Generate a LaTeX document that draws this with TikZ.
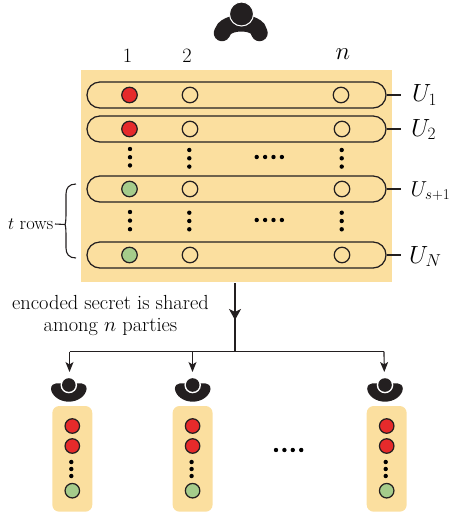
\documentclass[tikz,border=0pt]{standalone}
\usetikzlibrary{arrows.meta,calc}
\definecolor{pane}{HTML}{FBDF9F}
\definecolor{redc}{HTML}{E62A2B}
\definecolor{greenc}{HTML}{A5CC8B}
\definecolor{ink}{HTML}{231F20}
\tikzset{
 panel/.style={fill=pane,draw=none,inner sep=0pt,anchor=north west},
 rowpill/.style={draw=ink,line width=1.25pt,rounded corners=12.9pt,minimum width=299pt,minimum height=26pt,inner sep=0pt},
 share/.style={circle,draw=ink,line width=1.25pt,minimum size=15.5pt,inner sep=0pt},
 blank/.style={share},
 redshare/.style={share,fill=redc},
 greenshare/.style={share,fill=greenc},
 smalldot/.style={circle,fill=black,inner sep=0pt,minimum size=4.4pt},
 lab/.style={text=black,inner sep=0pt},
 ulab/.style={lab,anchor=base west,font=\fontsize{23}{24}\selectfont},
 conn/.style={draw=ink,line width=1.15pt},
 tip/.style={-{Stealth[length=10pt,width=8pt,inset=2.5pt]}},
 bigtip/.style={-{Stealth[length=11pt,width=12pt,inset=3pt]}}
}
\newcommand{\vdotsat}[3]{\node[smalldot] at (#1,#2) {};\node[smalldot] at (#1,#2+#3) {};\node[smalldot] at (#1,#2+2*#3) {};}
\newcommand{\hdotsat}[2]{\foreach \k in {0,1,2,3}{\node[smalldot] at (#1+\k*8.4,#2) {};}}
\newcommand{\bowlperson}[1]{%
 \fill[ink] (#1-17.8,389) .. controls (#1-17.8,385.5) and (#1-15.5,383.3) .. (#1-12.5,383.3)
   -- (#1+12.5,383.3) .. controls (#1+15.5,383.3) and (#1+17.8,385.5) .. (#1+17.8,389)
   .. controls (#1+17,396) and (#1+9,401.7) .. (#1,401.7)
   .. controls (#1-9,401.7) and (#1-17,396) .. (#1-17.8,389) -- cycle;
 \fill[white] (#1,385) circle[radius=8.3pt];
 \fill[ink] (#1,385) circle[radius=6.8pt];
}
\begin{document}
\begin{tikzpicture}[x=1pt,y=-1pt,font=\fontsize{20.4}{24}\selectfont]
\useasboundingbox (0,0) rectangle (451,515);
% top person
\draw[ink,line width=16.5pt,line cap=round] (222,33) .. controls (225,20) and (258,20) .. (259.5,33);
\fill[ink,draw=white,line width=1pt] (241.5,14) circle[radius=12pt];
% panel
\node[panel,minimum width=311pt,minimum height=212pt] (main) at (81,70) {};
\node[lab] (c1) at (127.5,56) {1};
\node[lab] (c2) at (187,56) {2};
\node[lab,font=\fontsize{28}{30}\selectfont] (cn) at (343,54) {$n$};
% rows
\node[rowpill] (r1) at (236.5,95) {};
\node[rowpill] (r2) at (236.5,129) {};
\node[rowpill] (r3) at (236.5,189) {};
\node[rowpill] (r4) at (236.5,255) {};
\node[redshare] (a1) at (129.5,95) {};
\node[blank] (b1) at (190,95) {};
\node[blank] (n1) at (341,95) {};
\node[redshare] (a2) at (129.5,129) {};
\node[blank] (b2) at (190,129) {};
\node[blank] (n2) at (342,129) {};
\node[greenshare] (a3) at (129.5,189) {};
\node[blank] (b3) at (190,189) {};
\node[blank] (n3) at (342,189) {};
\node[greenshare] (a4) at (129.5,255) {};
\node[blank] (b4) at (190,255) {};
\node[blank] (n4) at (342,255) {};
% dots
\vdotsat{130}{149}{8.2}\vdotsat{189.3}{150}{8.3}\vdotsat{341.7}{150}{8.3}
\vdotsat{130}{212}{8.6}\vdotsat{189.3}{212.7}{8.3}\vdotsat{341.7}{212.7}{8.3}
\hdotsat{256.7}{157}\hdotsat{256.7}{220}
% row labels
\node[ulab] (u1) at (412,101.5) {$U_1$};
\node[ulab] (u2) at (411,136) {$U_2$};
\node[ulab,scale=0.87] (u3) at (410.5,196.5) {$U_{s+1}$};
\node[ulab] (u4) at (409,263) {$U_N$};
\draw[conn] (r1.east) -- (401,95);
\draw[conn] (r2.east) -- (401,129);
\draw[conn] (r3.east) -- (401,189);
\draw[conn] (r4.east) -- (401,255);
% brace
\draw[conn,line width=1.1pt] (76,184) .. controls (69,184) and (66,188) .. (66,194) -- (66,214)
   .. controls (66,220) and (65.5,224) .. (65,224.5) .. controls (65.5,225) and (66,229) .. (66,235) -- (66,248)
   .. controls (66,254) and (69,258) .. (76,258);
\node[lab,anchor=east,font=\fontsize{18.5}{20}\selectfont] (trows) at (53.5,224) {$t$ rows};
\coordinate (bt) at (65,224.5);
\draw[conn,line width=1.1pt] (trows.east) ++(1.5,0) -- (bt);
% share text
\node[lab] (t1) at (110.5,302) {encoded secret is shared};
\node[lab] (t2) at (110.5,326.5) {among $n$ parties};
% tree
\coordinate (hub) at (235,351.7);
\coordinate (d1) at (69.5,351.7);
\coordinate (d2) at (192.5,351.7);
\coordinate (d3) at (384,351.7);
\coordinate (mainout) at (235,283);
\draw[conn,bigtip] (mainout) -- (235,320);
\draw[conn] (235,316) -- (hub);
\draw[conn] (d1) -- (d3);
\draw[conn,tip] (d1) -- (69.5,372);
\draw[conn,tip] (d2) -- (192.5,372);
\draw[conn,tip] (d3) -- (384.3,372);
% persons
\bowlperson{68.8}\bowlperson{192.7}\bowlperson{385}
% party boxes
\foreach \nm/\xx in {p/72.3,q/192.6,s/386.7}{
 \fill[pane,rounded corners=7pt] (\xx-20,406) rectangle (\xx+20,511.7);
 \node[redshare,minimum size=14.5pt] (\nm1) at (\xx,426) {};
 \node[redshare,minimum size=14.5pt] (\nm2) at (\xx,446) {};
 \node[greenshare,minimum size=14.5pt] (\nm3) at (\xx,490.7) {};
 \vdotsat{\xx-1}{462}{7}
}
\hdotsat{276}{450}
\end{tikzpicture}
\end{document}
